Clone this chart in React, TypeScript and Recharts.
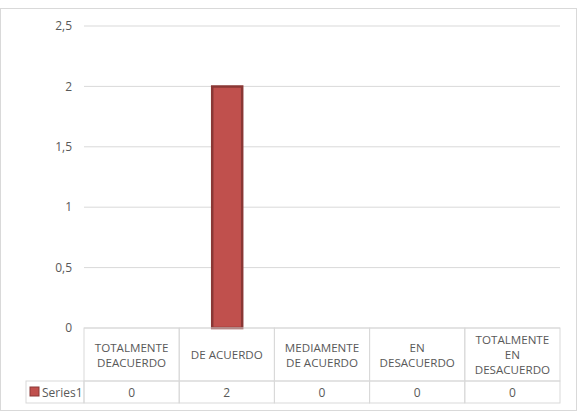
import { BarChart, Bar, XAxis, YAxis, CartesianGrid } from "recharts";

const categories = [
  "TOTALMENTE DEACUERDO",
  "DE ACUERDO",
  "MEDIAMENTE DE ACUERDO",
  "EN DESACUERDO",
  "TOTALMENTE EN DESACUERDO",
];
const headerLines = [
  ["TOTALMENTE", "DEACUERDO"],
  ["DE ACUERDO"],
  ["MEDIAMENTE", "DE ACUERDO"],
  ["EN", "DESACUERDO"],
  ["TOTALMENTE", "EN", "DESACUERDO"],
];
const series1 = [0, 2, 0, 0, 0];
const seriesName = "Series1";
const yTicks = [0, 0.5, 1, 1.5, 2, 2.5];

const data = categories.map((c, i) => ({ name: c, value: series1[i] }));

const W = 575;
const H = 401;
const M = { top: 17, right: 16, left: 0, bottom: 7 };
const Y_W = 83;
const HEAD_H = 53;
const ROW_H = 22;
const LABEL_W = 58;
const GRID = "#d9d9d9";
const TEXT = "#595959";
const FONT = "'Open Sans', 'Liberation Sans', sans-serif";
const bandW = (W - M.left - M.right - Y_W) / categories.length;

function TableTick(props: any) {
  const { x, y, index } = props;
  const x0 = x - bandW / 2;
  const lines = headerLines[index] ?? [];
  const lh = 15;
  const startY = y + HEAD_H / 2 - ((lines.length - 1) * lh) / 2;
  return (
    <g>
      <rect x={x0} y={y} width={bandW} height={HEAD_H} fill="none" stroke={GRID} />
      <rect x={x0} y={y + HEAD_H} width={bandW} height={ROW_H} fill="none" stroke={GRID} />
      {lines.map((l, k) => (
        <text
          key={k}
          x={x}
          y={startY + k * lh}
          textAnchor="middle"
          dominantBaseline="central"
          fontSize={11.6}
          fill={TEXT}
          fontFamily={FONT}
        >
          {l}
        </text>
      ))}
      <text
        x={x}
        y={y + HEAD_H + ROW_H / 2}
        textAnchor="middle"
        dominantBaseline="central"
        fontSize={12}
        fill={TEXT}
        fontFamily={FONT}
      >
        {series1[index]}
      </text>
      {index === 0 && (
        <g>
          <rect
            x={x0 - LABEL_W}
            y={y + HEAD_H}
            width={LABEL_W}
            height={ROW_H}
            fill="none"
            stroke={GRID}
          />
          <rect
            x={x0 - LABEL_W + 4}
            y={y + HEAD_H + 6}
            width={9}
            height={9}
            fill="#C0504D"
            stroke="#8C3836"
          />
          <text
            x={x0 - LABEL_W + 16}
            y={y + HEAD_H + ROW_H / 2}
            dominantBaseline="central"
            fontSize={12}
            fill={TEXT}
            fontFamily={FONT}
          >
            {seriesName}
          </text>
        </g>
      )}
    </g>
  );
}

export default function App() {
  return (
    <div
      style={{
        position: "absolute",
        left: 0,
        top: 8,
        width: W + 2,
        height: H + 2,
        border: `1px solid ${GRID}`,
        boxSizing: "border-box",
        background: "#fff",
      }}
    >
      <BarChart width={W} height={H} data={data} margin={M} barSize={30}>
        <CartesianGrid vertical={false} stroke={GRID} />
        <XAxis
          dataKey="name"
          height={HEAD_H + ROW_H}
          axisLine={false}
          tickLine={false}
          tickSize={0}
          tickMargin={0}
          interval={0}
          tick={<TableTick />}
        />
        <YAxis
          width={Y_W}
          domain={[0, 2.5]}
          ticks={yTicks}
          axisLine={false}
          tickLine={false}
          tickSize={0}
          tickMargin={12}
          tick={{ fontSize: 12, fill: TEXT, fontFamily: FONT }}
          tickFormatter={(v: number) => String(v).replace(".", ",")}
        />
        <Bar
          dataKey="value"
          fill="#C0504D"
          stroke="#8A3735"
          strokeWidth={2.5}
          isAnimationActive={false}
        />
      </BarChart>
    </div>
  );
}
